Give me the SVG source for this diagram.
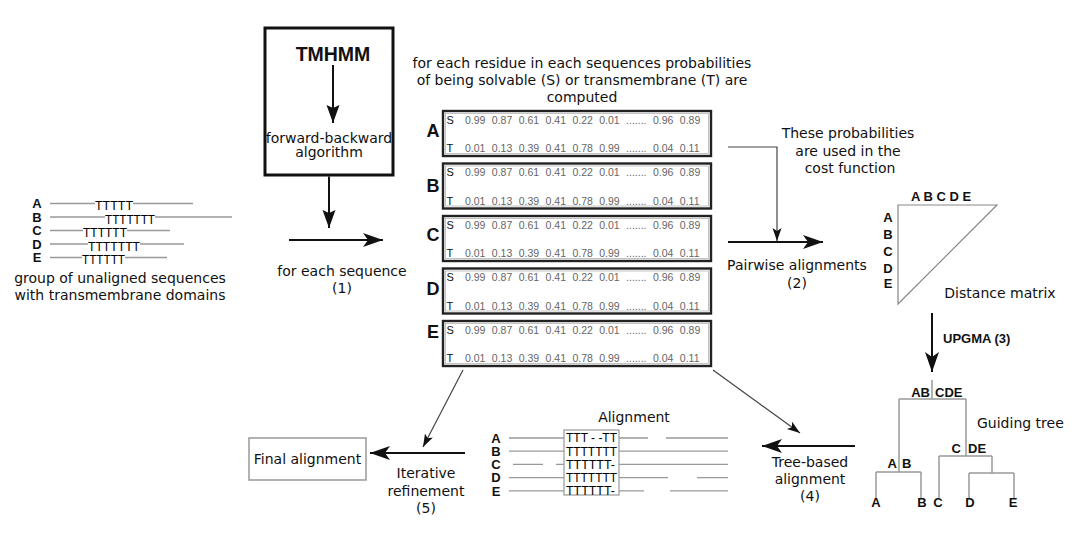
<svg xmlns="http://www.w3.org/2000/svg" width="1071" height="545" viewBox="0 0 1071 545">
<style>
.t{font-family:"DejaVu Sans",Verdana,sans-serif;font-size:14px;fill:#111}
.tm{font-family:"DejaVu Sans",Verdana,sans-serif;font-size:14px;fill:#111;text-anchor:middle}
.b{font-family:"Liberation Sans",Arial,sans-serif;font-weight:bold;fill:#111}
.bm{font-family:"Liberation Sans",Arial,sans-serif;font-weight:bold;fill:#111;text-anchor:middle}
.num{font-family:"Liberation Sans",Arial,sans-serif;font-size:10.5px;fill:#666;word-spacing:3.5px}
.st{font-family:"Liberation Sans",Arial,sans-serif;font-size:11px;fill:#111}
.tt{font-family:"Liberation Sans",Arial,sans-serif;font-size:12px;fill:#000}
.seq{stroke:#999;stroke-width:1.3;fill:none}
.tbl{fill:#fff;stroke:#222;stroke-width:2.4}
.tin{fill:none;stroke:#aaa;stroke-width:0.7}
.tree{stroke:#999;stroke-width:1.5;fill:none}
.thick{stroke:#111;stroke-width:2;fill:none}
.thin{stroke:#444;stroke-width:1.2;fill:none}
</style>
<defs>
<marker id="big" markerUnits="userSpaceOnUse" markerWidth="22" markerHeight="14" refX="20" refY="7" orient="auto"><path d="M0,0 L20,7 L0,14 L5,7 Z" fill="#111"/></marker>
<marker id="med" markerUnits="userSpaceOnUse" markerWidth="20" markerHeight="14" refX="18" refY="6.5" orient="auto"><path d="M0,0 L18,6.5 L0,13 L3,6.5 Z" fill="#111"/></marker>
<marker id="small" markerUnits="userSpaceOnUse" markerWidth="14" markerHeight="10" refX="13" refY="4.5" orient="auto"><path d="M0,0 L13,4.5 L0,9 L3,4.5 Z" fill="#111"/></marker>
</defs>
<rect width="1071" height="545" fill="#fff"/>

<g id="unaligned">
<g class="seq">
<path d="M50,203.5H95M133,203.5H193"/>
<path d="M50,217H105M155,217H232"/>
<path d="M50,230.5H83M127,230.5H170"/>
<path d="M50,244H88M140,244H184"/>
<path d="M50,257.5H82M125,257.5H167"/>
</g>
<text class="tt" x="95" y="210" textLength="38" lengthAdjust="spacingAndGlyphs">TTTTT</text>
<text class="tt" x="105" y="223.5" textLength="50" lengthAdjust="spacingAndGlyphs">TTTTTTT</text>
<text class="tt" x="83" y="237" textLength="44" lengthAdjust="spacingAndGlyphs">TTTTTT</text>
<text class="tt" x="88" y="250.5" textLength="52" lengthAdjust="spacingAndGlyphs">TTTTTTT</text>
<text class="tt" x="82" y="264" textLength="43" lengthAdjust="spacingAndGlyphs">TTTTTT</text>
<g class="bm" font-size="13">
<text x="37" y="208.2">A</text>
<text x="37" y="221.7">B</text>
<text x="37" y="235.2">C</text>
<text x="37" y="248.7">D</text>
<text x="37" y="262.2">E</text>
</g>
<text class="tm" x="120" y="283">group of unaligned sequences</text>
<text class="tm" x="120" y="300">with transmembrane domains</text>
</g>

<g id="tmhmm">
<rect x="265" y="28" width="128" height="147" fill="#fff" stroke="#111" stroke-width="3"/>
<text class="bm" x="333" y="61" font-size="19.5">TMHMM</text>
<text class="tm" x="329" y="143" font-size="12">forward-backward</text>
<text class="tm" x="329" y="157" font-size="12">algorithm</text>
</g>

<g id="label-step1">
<text class="tm" x="342" y="276">for each sequence</text>
<text class="tm" x="342" y="293">(1)</text>
</g>

<g id="prob-caption">
<text class="tm" x="582" y="68">for each residue in each sequences probabilities</text>
<text class="tm" x="582" y="85">of being solvable (S) or transmembrane (T) are</text>
<text class="tm" x="582" y="102">computed</text>
</g>

<g id="table-A">
<rect class="tbl" x="443" y="111" width="268" height="45"/>
<rect class="tin" x="445.5" y="113.5" width="263" height="40"/>
<text class="st" x="446.5" y="123.5">S</text><text class="num" x="465" y="123.5">0.99 0.87 0.61 0.41 0.22 0.01 ....... 0.96 0.89</text>
<text class="st" x="446.5" y="152">T</text><text class="num" x="465" y="152">0.01 0.13 0.39 0.41 0.78 0.99 ....... 0.04 0.11</text>
<text class="bm" x="433" y="137" font-size="18">A</text>
</g>
<g id="table-B">
<rect class="tbl" x="443" y="163.5" width="268" height="45"/>
<rect class="tin" x="445.5" y="166" width="263" height="40"/>
<text class="st" x="446.5" y="176">S</text><text class="num" x="465" y="176">0.99 0.87 0.61 0.41 0.22 0.01 ....... 0.96 0.89</text>
<text class="st" x="446.5" y="204.5">T</text><text class="num" x="465" y="204.5">0.01 0.13 0.39 0.41 0.78 0.99 ....... 0.04 0.11</text>
<text class="bm" x="433" y="192" font-size="18">B</text>
</g>
<g id="table-C">
<rect class="tbl" x="443" y="216" width="268" height="45"/>
<rect class="tin" x="445.5" y="218.5" width="263" height="40"/>
<text class="st" x="446.5" y="228.5">S</text><text class="num" x="465" y="228.5">0.99 0.87 0.61 0.41 0.22 0.01 ....... 0.96 0.89</text>
<text class="st" x="446.5" y="257">T</text><text class="num" x="465" y="257">0.01 0.13 0.39 0.41 0.78 0.99 ....... 0.04 0.11</text>
<text class="bm" x="433" y="241" font-size="18">C</text>
</g>
<g id="table-D">
<rect class="tbl" x="443" y="268.5" width="268" height="45"/>
<rect class="tin" x="445.5" y="271" width="263" height="40"/>
<text class="st" x="446.5" y="281">S</text><text class="num" x="465" y="281">0.99 0.87 0.61 0.41 0.22 0.01 ....... 0.96 0.89</text>
<text class="st" x="446.5" y="309.5">T</text><text class="num" x="465" y="309.5">0.01 0.13 0.39 0.41 0.78 0.99 ....... 0.04 0.11</text>
<text class="bm" x="433" y="294.5" font-size="18">D</text>
</g>
<g id="table-E">
<rect class="tbl" x="443" y="321" width="268" height="45"/>
<rect class="tin" x="445.5" y="323.5" width="263" height="40"/>
<text class="st" x="446.5" y="333.5">S</text><text class="num" x="465" y="333.5">0.99 0.87 0.61 0.41 0.22 0.01 ....... 0.96 0.89</text>
<text class="st" x="446.5" y="362">T</text><text class="num" x="465" y="362">0.01 0.13 0.39 0.41 0.78 0.99 ....... 0.04 0.11</text>
<text class="bm" x="433" y="338" font-size="18">E</text>
</g>

<g id="cost-caption">
<text class="tm" x="848" y="138">These probabilities</text>
<text class="tm" x="848" y="156">are used in the</text>
<text class="tm" x="850" y="173">cost function</text>
</g>

<g id="label-step2">
<text class="tm" x="797" y="270">Pairwise alignments</text>
<text class="tm" x="797" y="288">(2)</text>
</g>

<g id="distance-matrix">
<polygon points="898,205 997,205 898,304" fill="none" stroke="#888" stroke-width="1.2"/>
<text class="b" x="911" y="201" font-size="13">A B C D E</text>
<g class="bm" font-size="13">
<text x="888" y="221.7">A</text>
<text x="888" y="238.7">B</text>
<text x="888" y="255.7">C</text>
<text x="888" y="272.7">D</text>
<text x="888" y="287.7">E</text>
</g>
<text class="tm" x="1000" y="298">Distance matrix</text>
</g>

<g id="upgma-label">
<text class="b" x="943" y="343" font-size="13">UPGMA (3)</text>
</g>

<g id="guiding-tree">
<path class="tree" d="M932,380V399M899,399H966M899,399V472M966,399V456M876,472H921M876,472V498M921,472V498M939,456H992M939,456V498M992,456V473M969,473H1014M969,473V498M1014,473V498"/>
<g class="b" font-size="13">
<text x="930" y="397" text-anchor="end">AB</text>
<text x="935" y="397">CDE</text>
<text x="897" y="468" text-anchor="end">A</text>
<text x="902" y="468">B</text>
<text x="961" y="453" text-anchor="end">C</text>
<text x="968" y="453">DE</text>
</g>
<g class="bm" font-size="13">
<text x="876" y="507">A</text>
<text x="922" y="507">B</text>
<text x="938" y="507">C</text>
<text x="970" y="507">D</text>
<text x="1013" y="507">E</text>
</g>
<text class="t" x="977" y="428">Guiding tree</text>
</g>

<g id="label-step4">
<text class="tm" x="810" y="467">Tree-based</text>
<text class="tm" x="810" y="484">alignment</text>
<text class="tm" x="810" y="501">(4)</text>
</g>

<g id="alignment">
<text class="tm" x="634" y="422">Alignment</text>
<g class="seq">
<path d="M509,438H564M619,438H648M666,438H728"/>
<path d="M509,451.2H564M619,451.2H728"/>
<path d="M513,464.4H543M556,464.4H564M619,464.4H728"/>
<path d="M509,477.6H564M619,477.6H668M697,477.6H728"/>
<path d="M509,490.8H564M619,490.8H644M670,490.8H728"/>
</g>
<rect x="564" y="430" width="55" height="65" fill="none" stroke="#999" stroke-width="1.2"/>
<text class="tt" x="566" y="442.3" textLength="51" lengthAdjust="spacingAndGlyphs">TTT - -TT</text>
<text class="tt" x="566" y="455.5" textLength="51" lengthAdjust="spacingAndGlyphs">TTTTTTT</text>
<text class="tt" x="566" y="468.7" textLength="49" lengthAdjust="spacingAndGlyphs">TTTTTT-</text>
<text class="tt" x="566" y="481.9" textLength="51" lengthAdjust="spacingAndGlyphs">TTTTTTT</text>
<text class="tt" x="566" y="495.1" textLength="49" lengthAdjust="spacingAndGlyphs">TTTTTT-</text>
<g class="bm" font-size="13">
<text x="496" y="442.7">A</text>
<text x="496" y="455.9">B</text>
<text x="496" y="469.1">C</text>
<text x="496" y="482.3">D</text>
<text x="496" y="495.5">E</text>
</g>
</g>

<g id="label-step5">
<text class="tm" x="426" y="478">Iterative</text>
<text class="tm" x="426" y="496">refinement</text>
<text class="tm" x="426" y="513">(5)</text>
</g>

<g id="final-alignment">
<rect x="249" y="438" width="117" height="42" fill="#fff" stroke="#999" stroke-width="1.5"/>
<text class="tm" x="307.5" y="464">Final alignment</text>
</g>

<g id="connectors">
<line class="thick" x1="333" y1="65" x2="333" y2="123" marker-end="url(#med)"/>
<line class="thick" x1="329" y1="176.5" x2="329" y2="228" marker-end="url(#med)"/>
<line class="thick" x1="289" y1="240" x2="383" y2="240" stroke-width="1.8" marker-end="url(#big)"/>
<polyline class="thin" points="728,147 777,147 777,241" marker-end="url(#small)"/>
<line class="thick" x1="728" y1="242" x2="823" y2="242" stroke-width="1.8" marker-end="url(#big)"/>
<line class="thick" x1="932" y1="313" x2="932" y2="372" stroke-width="2.5" marker-end="url(#big)"/>
<line class="thick" x1="855" y1="446" x2="762" y2="446" marker-end="url(#big)"/>
<line class="thin" x1="713" y1="370" x2="800" y2="433" marker-end="url(#small)"/>
<line class="thick" x1="465" y1="453" x2="370" y2="453" stroke="#444" stroke-width="2.5" marker-end="url(#big)"/>
<line class="thin" x1="463" y1="370" x2="423" y2="447" marker-end="url(#small)"/>
</g>
</svg>
